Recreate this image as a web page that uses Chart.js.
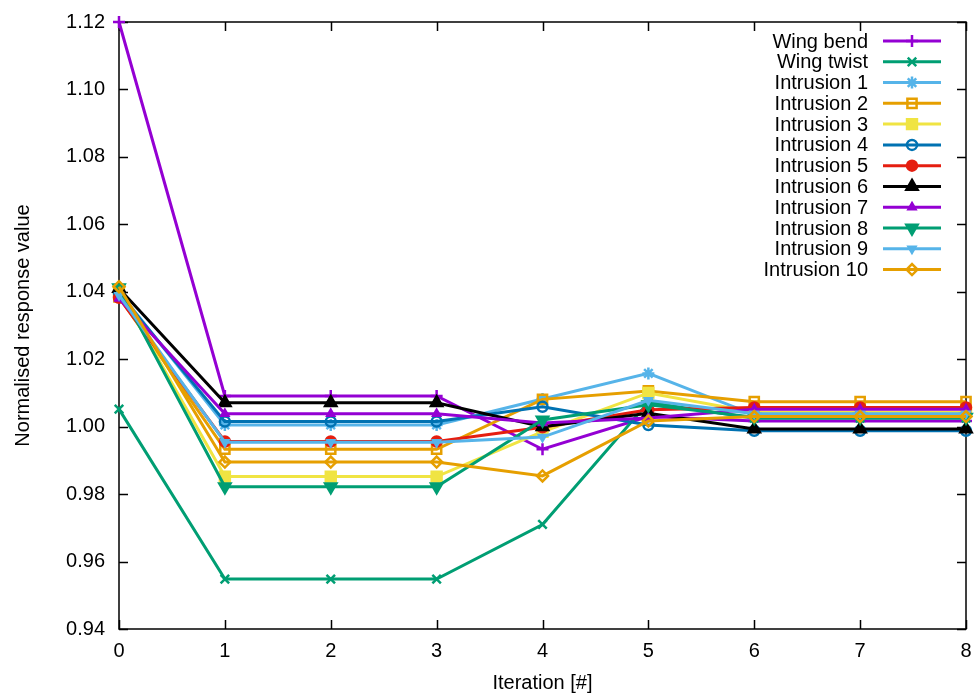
<!DOCTYPE html>
<html>
<head>
<meta charset="utf-8">
<script src="https://cdn.jsdelivr.net/npm/chart.js@4.4.1/dist/chart.umd.min.js"></script>
<style>
  html, body { margin: 0; background: #fff; }
  #wrap { width: 976px; height: 695px; }
</style>
</head>
<body>
<div id="wrap"><canvas id="chart" width="976" height="695"></canvas></div>
<script>
// iteration axis and tick values
const iterations = [0, 1, 2, 3, 4, 5, 6, 7, 8];
const yTicks = [0.94, 0.96, 0.98, 1.00, 1.02, 1.04, 1.06, 1.08, 1.10, 1.12];

// normalised responses per iteration
const wingBend    = [1.1200, 1.0091, 1.0091, 1.0091, 0.9933, 1.0030, 1.0017, 1.0017, 1.0017];
const wingTwist   = [1.0052, 0.9548, 0.9548, 0.9548, 0.9710, 1.0072, 1.0025, 1.0025, 1.0025];
const intrusion1  = [1.0400, 1.0005, 1.0005, 1.0005, 1.0082, 1.0158, 1.0035, 1.0035, 1.0035];
const intrusion2  = [1.0385, 0.9933, 0.9933, 0.9933, 1.0081, 1.0106, 1.0074, 1.0074, 1.0074];
const intrusion3  = [1.0405, 0.9852, 0.9852, 0.9852, 0.9985, 1.0100, 1.0043, 1.0043, 1.0043];
const intrusion4  = [1.0395, 1.0015, 1.0015, 1.0015, 1.0059, 1.0005, 0.9988, 0.9988, 0.9988];
const intrusion5  = [1.0382, 0.9956, 0.9956, 0.9956, 0.9998, 1.0050, 1.0057, 1.0057, 1.0057];
const intrusion6  = [1.0410, 1.0071, 1.0071, 1.0071, 1.0000, 1.0040, 0.9993, 0.9993, 0.9993];
const intrusion7  = [1.0380, 1.0038, 1.0038, 1.0038, 1.0011, 1.0026, 1.0052, 1.0052, 1.0052];
const intrusion8  = [1.0412, 0.9822, 0.9822, 0.9822, 1.0020, 1.0065, 1.0028, 1.0028, 1.0028];
const intrusion9  = [1.0390, 0.9954, 0.9954, 0.9954, 0.9969, 1.0078, 1.0038, 1.0038, 1.0038];
const intrusion10 = [1.0415, 0.9895, 0.9895, 0.9895, 0.9854, 1.0017, 1.0030, 1.0030, 1.0030];

const PURPLE = "#9400d3", GREEN = "#009e73", SKY = "#56b4e9", ORANGE = "#e69f00",
      YELLOW = "#f0e442", BLUE = "#0072b2", RED = "#e51e10", BLACK = "#000000";

// label, values, colour, marker style, radius, filled, rotation
const series = [
  ["Wing bend",    wingBend,    PURPLE, "cross",    6,   false, 0],
  ["Wing twist",   wingTwist,   GREEN,  "crossRot", 6,   false, 0],
  ["Intrusion 1",  intrusion1,  SKY,    "star",     6,   false, 0],
  ["Intrusion 2",  intrusion2,  ORANGE, "rect",     6.5, false, 0],
  ["Intrusion 3",  intrusion3,  YELLOW, "rect",     7,   true,  0],
  ["Intrusion 4",  intrusion4,  BLUE,   "circle",   5,   false, 0],
  ["Intrusion 5",  intrusion5,  RED,    "circle",   5,   true,  0],
  ["Intrusion 6",  intrusion6,  BLACK,  "triangle", 6.5, true,  0],
  ["Intrusion 7",  intrusion7,  PURPLE, "triangle", 4,   true,  0],
  ["Intrusion 8",  intrusion8,  GREEN,  "triangle", 6.5, true,  180],
  ["Intrusion 9",  intrusion9,  SKY,    "triangle", 4,   true,  180],
  ["Intrusion 10", intrusion10, ORANGE, "rectRot",  5.5, false, 0]
];

const datasets = series.map(([label, vals, col, style, r, filled, rot], i) => ({
  label,
  data: iterations.map((x, k) => ({ x, y: vals[k] })),
  borderColor: col,
  backgroundColor: col,
  borderWidth: 3,
  pointStyle: style,
  pointRadius: r,
  pointRotation: rot,
  pointBorderColor: col,
  pointBackgroundColor: filled ? col : "rgba(0,0,0,0)",
  pointBorderWidth: 2.5,
  tension: 0,
  clip: false,
  order: -i          // later series drawn on top
}));

Chart.defaults.font.family = "'Liberation Sans', Arial, sans-serif";
Chart.defaults.font.size = 20;
Chart.defaults.color = "#000";

// box border with inward ticks on all four sides
const frame = {
  id: "frame",
  beforeDatasetsDraw(chart) {
    const { ctx, chartArea: a, scales: { x, y } } = chart;
    const tl = 9;
    ctx.save();
    ctx.strokeStyle = "#000";
    ctx.lineWidth = 1.5;
    ctx.beginPath();
    y.ticks.forEach(t => {
      const py = Math.round(y.getPixelForValue(t.value)) + 0.5;
      ctx.moveTo(a.left, py); ctx.lineTo(a.left + tl, py);
      ctx.moveTo(a.right, py); ctx.lineTo(a.right - tl, py);
    });
    x.ticks.forEach(t => {
      const px = Math.round(x.getPixelForValue(t.value)) + 0.5;
      ctx.moveTo(px, a.bottom); ctx.lineTo(px, a.bottom - tl);
      ctx.moveTo(px, a.top); ctx.lineTo(px, a.top + tl);
    });
    ctx.stroke();
    ctx.strokeRect(a.left, a.top, a.right - a.left, a.bottom - a.top);
    ctx.restore();
  }
};

// key in the top-right corner: text right-aligned, line sample after it
const key = {
  id: "key",
  afterDatasetsDraw(chart) {
    const { ctx } = chart;
    const textRight = 868, x0 = 883, x1 = 941, y0 = 41, dy = 20.78;
    ctx.save();
    ctx.font = "20px 'Liberation Sans', Arial, sans-serif";
    ctx.textAlign = "right";
    ctx.textBaseline = "middle";
    chart.data.datasets.forEach((ds, i) => {
      const yy = y0 + i * dy;
      ctx.fillStyle = "#000";
      ctx.fillText(ds.label, textRight, yy + 1);
      ctx.strokeStyle = ds.borderColor;
      ctx.lineWidth = ds.borderWidth;
      ctx.beginPath();
      ctx.moveTo(x0, yy); ctx.lineTo(x1, yy);
      ctx.stroke();
      ctx.fillStyle = ds.pointBackgroundColor;
      ctx.strokeStyle = ds.pointBorderColor;
      ctx.lineWidth = ds.pointBorderWidth;
      Chart.helpers.drawPoint(ctx, {
        pointStyle: ds.pointStyle, rotation: ds.pointRotation,
        radius: ds.pointRadius, borderWidth: ds.pointBorderWidth
      }, (x0 + x1) / 2, yy);
    });
    ctx.restore();
  }
};

// drop the label overhang padding so the layout padding alone places the box
function noOverhang(s) {
  s.paddingLeft = 0; s.paddingRight = 0; s.paddingTop = 0; s.paddingBottom = 0;
}

new Chart(document.getElementById("chart"), {
  type: "line",
  data: { datasets },
  options: {
    responsive: false,
    animation: false,
    layout: { padding: { top: 22, right: 10, left: 0, bottom: 0 } },
    plugins: { legend: { display: false }, tooltip: { enabled: false } },
    scales: {
      x: {
        type: "linear", min: 0, max: 8,
        afterBuildTicks: s => { s.ticks = iterations.map(v => ({ value: v })); },
        afterFit: s => { s.height = 66; noOverhang(s); },
        grid: { display: false, drawTicks: false },
        border: { display: false },
        ticks: { padding: 10, callback: v => String(v) },
        title: { display: true, text: "Iteration [#]", padding: { top: 0, bottom: 0 }, font: { size: 20 } }
      },
      y: {
        type: "linear", min: 0.94, max: 1.12,
        afterBuildTicks: s => { s.ticks = yTicks.map(v => ({ value: v })); },
        afterFit: s => { s.width = 119; noOverhang(s); },
        grid: { display: false, drawTicks: false },
        border: { display: false },
        ticks: { padding: 14, callback: v => v.toFixed(2) },
        title: { display: true, text: "Normalised response value", padding: { top: 11, bottom: 0 }, font: { size: 20 } }
      }
    }
  },
  plugins: [frame, key]
});
</script>
</body>
</html>
